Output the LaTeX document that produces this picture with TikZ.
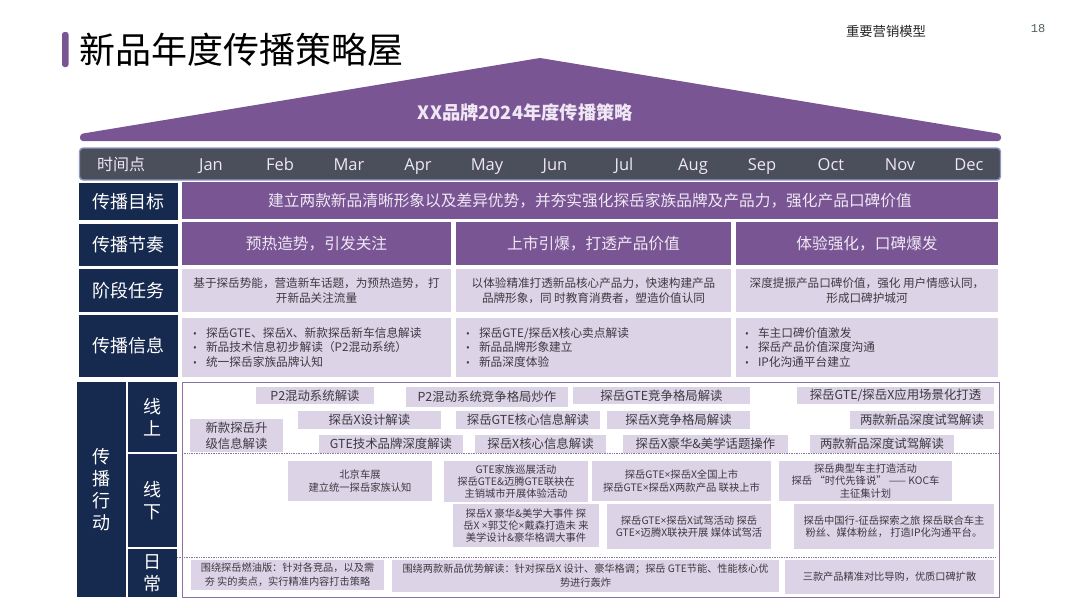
\documentclass[tikz,border=0pt]{standalone}
\usepackage{fontspec}
\setmainfont{Noto Sans CJK SC}
\newfontfamily\latinfont{Open Sans}
\newfontfamily\pagefont{Liberation Mono}
\definecolor{brandpurple}{HTML}{7A5594}
\definecolor{navyblue}{HTML}{16294F}
\definecolor{lavender}{HTML}{DDD3E6}
\definecolor{softwhite}{HTML}{EFE8F4}
\definecolor{bodygrey}{HTML}{3C3A42}
\definecolor{barslate}{HTML}{4A4F5B}
\definecolor{barline}{HTML}{9297CC}
\definecolor{frameline}{HTML}{8A70A5}
\definecolor{pagegrey}{HTML}{4F5F58}
\newcommand{\fs}[2]{\fontsize{#1}{#2}\selectfont}
\tikzset{
  base/.style={inner sep=0pt,outer sep=0pt,align=center,anchor=north west},
  navycell/.style={base,fill=navyblue,text=white,font=\fs{18}{22}},
  purplecell/.style={base,fill=brandpurple,text=softwhite,font=\fs{15.7}{20}},
  taskcell/.style={base,fill=lavender,text=bodygrey,font=\fs{11.6}{14.5}},
  infocell/.style={base,fill=lavender,text=bodygrey,font=\fs{11.7}{14.2},align=left},
  onlinecell/.style={base,fill=lavender,text=bodygrey,font=\fs{12.4}{16}},
  offlinecell/.style={base,fill=lavender,text=bodygrey,font=\fs{10.3}{12.3}},
  dailycell/.style={base,fill=lavender,text=bodygrey,font=\fs{10.2}{14}},
  monthlabel/.style={inner sep=0pt,anchor=base,text=softwhite,font=\latinfont\fs{16.5}{20}},
  dotline/.style={frameline!70!gray,densely dotted,line width=0.7pt}
}
\newcommand{\bx}[7]{\node[#2,minimum width=\dimexpr#5pt-#3pt\relax,minimum height=\dimexpr#6pt-#4pt\relax] (#1) at (#3,#4) {#7};}
\newcommand{\bl}{\makebox[13pt][l]{\latinfont\fs{10}{10}•}}
\newcommand{\tm}{{\latinfont ×}}
\begin{document}
\begin{tikzpicture}[x=1pt,y=-1pt]
\useasboundingbox (0,0) rectangle (1080,608);
% header
\fill[brandpurple,rounded corners=2.5pt] (62,32) rectangle (68.5,67);
\node[inner sep=0pt,anchor=west,font=\fs{36}{40},text=black] (title) at (79,50) {新品年度传播策略屋};
\node[inner sep=0pt,font=\fs{13.3}{16},text=black!85] (section) at (886,31) {重要营销模型};
\node[inner sep=0pt,font=\pagefont\fs{12}{13},text=pagegrey] (pageno) at (1038,29) {18};
% roof
\fill[brandpurple] (540,58) [rounded corners=3pt] -- (1001,134) -- (1001,141) -- (80,141) -- (80,134) [sharp corners] -- cycle;
\node[inner sep=0pt,font=\bfseries\fs{18.3}{22},text=softwhite] (roof) at (525.5,112) {XX品牌2024年度传播策略};
% timeline
\node[base,fill=barslate,draw=barline,line width=1.3pt,rounded corners=3.5pt,minimum width=921pt,minimum height=32pt] (bar) at (79.5,148) {};
\node[monthlabel,font=\fs{16}{20}] (mT) at (121,170) {时间点};
\node[monthlabel] (m1) at (211,170) {Jan};
\node[monthlabel] (m2) at (280,170) {Feb};
\node[monthlabel] (m3) at (349,170) {Mar};
\node[monthlabel] (m4) at (418,170) {Apr};
\node[monthlabel] (m5) at (487,170) {May};
\node[monthlabel] (m6) at (555,170) {Jun};
\node[monthlabel] (m7) at (624,170) {Jul};
\node[monthlabel] (m8) at (693,170) {Aug};
\node[monthlabel] (m9) at (762,170) {Sep};
\node[monthlabel] (m10) at (831,170) {Oct};
\node[monthlabel] (m11) at (900,170) {Nov};
\node[monthlabel] (m12) at (969,170) {Dec};
% row heads
\bx{hGoal}{navycell}{79}{183}{178}{220}{传播目标}
\bx{hRhythm}{navycell}{79}{224}{178}{266}{传播节奏}
\bx{hTask}{navycell}{79}{269}{178}{312}{阶段任务}
\bx{hInfo}{navycell}{79}{315}{178}{377}{传播信息}
% goal
\bx{goal}{purplecell}{182}{182}{998}{219}{建立两款新品清晰形象以及差异优势，并夯实强化探岳家族品牌及产品力，强化产品口碑价值}
% rhythm
\bx{r1}{purplecell}{182}{222}{451}{265}{预热造势，引发关注}
\bx{r2}{purplecell}{456}{222}{731}{265}{上市引爆，打透产品价值}
\bx{r3}{purplecell}{736}{222}{998}{265}{体验强化，口碑爆发}
% tasks
\bx{t1}{taskcell}{182}{269}{451}{312}{基于探岳势能，营造新车话题，为预热造势， 打\\开新品关注流量}
\bx{t2}{taskcell}{456}{269}{731}{312}{以体验精准打透新品核心产品力，快速构建产品\\品牌形象，同 时教育消费者，塑造价值认同}
\bx{t3}{taskcell}{736}{269}{998}{312}{深度提振产品口碑价值，强化 用户情感认同，\\形成口碑护城河}
% info
\bx{i1}{infocell}{182}{318}{451}{377}{\hspace*{11pt}\parbox{250pt}{\fs{11.7}{14.2}\bl 探岳GTE、探岳X、新款探岳新车信息解读\\\bl 新品技术信息初步解读（P2混动系统）\\\bl 统一探岳家族品牌认知}\hspace*{8pt}}
\bx{i2}{infocell}{456}{318}{731}{377}{\hspace*{10pt}\parbox{255pt}{\fs{11.7}{14.2}\bl 探岳GTE/探岳X核心卖点解读\\\bl 新品品牌形象建立\\\bl 新品深度体验}\hspace*{10pt}}
\bx{i3}{infocell}{736}{318}{998}{377}{\hspace*{9pt}\parbox{245pt}{\fs{11.7}{14.2}\bl 车主口碑价值激发\\\bl 探岳产品价值深度沟通\\\bl IP化沟通平台建立}\hspace*{8pt}}
% action heads
\bx{hAct}{navycell}{77}{382}{126}{597}{传\\播\\行\\动}
\bx{hOn}{navycell}{128}{382}{177}{452}{线\\上}
\bx{hOff}{navycell}{128}{454}{177}{547}{线\\下}
\bx{hDay}{navycell}{128}{549}{177}{597}{日\\常}
% frame
\draw[frameline,line width=0.9pt] (182,382) rectangle (999,597);
\coordinate (d1a) at (182,453); \coordinate (d1b) at (999,453);
\coordinate (d2a) at (177,557); \coordinate (d2b) at (995,557);
\draw[dotline] (d1a) -- (d1b);
\draw[dotline] (d2a) -- (d2b);
% online
\bx{a1}{onlinecell}{256}{387}{374}{404}{P2混动系统解读}
\bx{a2}{onlinecell}{406}{387}{568}{407}{P2混动系统竞争格局炒作}
\bx{a3}{onlinecell}{573}{387}{750}{404}{探岳GTE竞争格局解读}
\bx{a4}{onlinecell}{797}{387}{994}{404}{探岳GTE/探岳X应用场景化打透}
\bx{a5}{onlinecell}{298}{411}{441}{429}{探岳X设计解读}
\bx{a6}{onlinecell}{456}{411}{600}{429}{探岳GTE核心信息解读}
\bx{a7}{onlinecell}{607}{411}{750}{429}{探岳X竞争格局解读}
\bx{a8}{onlinecell}{850}{411}{994}{429}{两款新品深度试驾解读}
\bx{a9}{onlinecell}{190}{419}{283}{452}{新款探岳升\\级信息解读}
\bx{a10}{onlinecell}{319}{435}{463}{453}{GTE技术品牌深度解读}
\bx{a11}{onlinecell}{475}{435}{606}{453}{探岳X核心信息解读}
\bx{a12}{onlinecell}{623}{435}{788}{453}{探岳X豪华\&美学话题操作}
\bx{a13}{onlinecell}{810}{435}{954}{453}{两款新品深度试驾解读}
% offline
\bx{b1}{offlinecell}{288}{461}{432}{501}{北京车展\\建立统一探岳家族认知}
\bx{b2}{offlinecell}{444}{461}{588}{502}{GTE家族巡展活动\\探岳GTE\&迈腾GTE联袂在\\主销城市开展体验活动}
\bx{b3}{offlinecell}{592}{461}{771}{501}{探岳GTE\tm 探岳X全国上市\\探岳GTE\tm 探岳X两款产品 联袂上市}
\bx{b4}{offlinecell}{779}{461}{952}{501}{探岳典型车主打造活动\\探岳 “时代先锋说” —— KOC车\\主征集计划}
\bx{b5}{offlinecell}{453}{504}{599}{547}{探岳X 豪华\&美学大事件 探\\岳X \tm 郭艾伦\tm 戴森打造未 来\\美学设计\&豪华格调大事件}
\bx{b6}{offlinecell}{607}{504}{771}{549}{探岳GTE\tm 探岳X试驾活动 探岳\\GTE\tm 迈腾X联袂开展 媒体试驾活}
\bx{b7}{offlinecell}{794}{504}{994}{549}{探岳中国行-征岳探索之旅 探岳联合车主\\粉丝、媒体粉丝， 打造IP化沟通平台。}
% daily
\bx{c1}{dailycell}{191}{560}{384}{590}{围绕探岳燃油版：针对各竞品，以及需\\夯 实的卖点，实行精准内容打击策略}
\bx{c2}{dailycell}{392}{560}{779}{592}{围绕两款新品优势解读：针对探岳X 设计、豪华格调；探岳 GTE节能、性能核心优\\势进行轰炸}
\bx{c3}{dailycell}{785}{560}{994}{594}{三款产品精准对比导购，优质口碑扩散}
\end{tikzpicture}
\end{document}
